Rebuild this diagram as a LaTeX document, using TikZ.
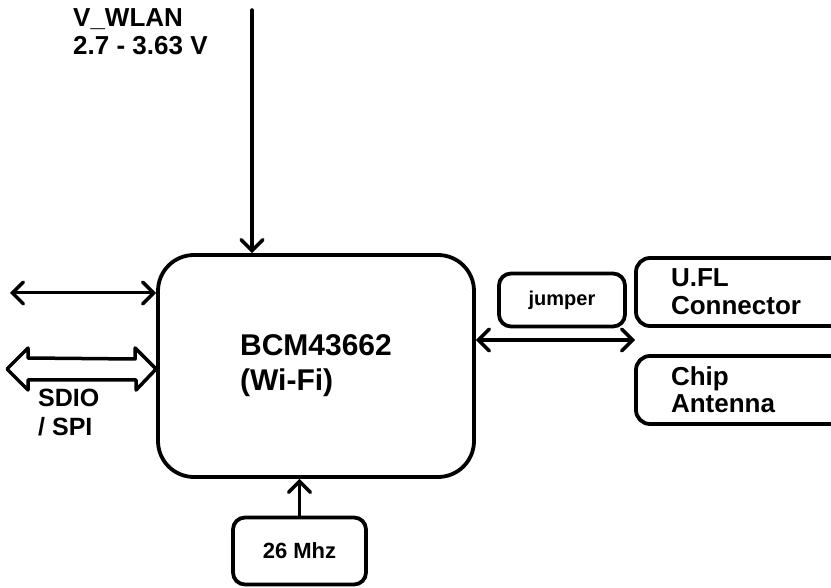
\documentclass[tikz,border=0pt]{standalone}
\usepackage{fontspec}
\setmainfont{Liberation Sans}
\usetikzlibrary{arrows.meta,calc}
\tikzset{
	blk/.style={draw, line width=3.8pt, rounded corners=12pt, font=\bfseries},
	lbl/.style={font=\bfseries, align=left, inner sep=0pt},
	link/.style={line width=3.5pt, line cap=round, line join=round},
	>={Straight Barb[length=11pt, width=22pt, line width=3.5pt, line cap=round]},
}

\begin{document}
\begin{tikzpicture}[x=1pt, y=-1pt]
		\useasboundingbox (0,0) rectangle (831,588);
		% Define nodes
		\node[blk, rounded corners=36pt, minimum width=316pt, minimum height=222pt, align=left,
			font=\bfseries\fontsize{30}{35}\selectfont] (wifi) at (316,366) {BCM43662\\(Wi-Fi)};
		\node[blk, minimum width=126pt, minimum height=53pt,
			font=\bfseries\fontsize{20}{22}\selectfont] (jumper) at (562,300) {jumper};
		\node[blk, rounded corners=14pt, inner xsep=35pt, text width=150pt, minimum height=68pt, align=left,
			font=\bfseries\fontsize{26}{28}\selectfont] (ufl) at (746,292) {U.FL\\Connector};
		\node[blk, rounded corners=14pt, inner xsep=35pt, text width=150pt, minimum height=68pt, align=left,
			font=\bfseries\fontsize{26}{27}\selectfont] (chip) at (746,390) {Chip\\Antenna};
		\node[blk, minimum width=133pt, minimum height=67pt,
			font=\bfseries\fontsize{22}{24}\selectfont] (clk) at (299.5,551) {26 Mhz};
		\node[lbl, anchor=north west, font=\bfseries\fontsize{26}{28}\selectfont] (vwlan) at (73,8) {V\_WLAN\\2.7 - 3.63 V};
		\node[lbl, anchor=north west, font=\bfseries\fontsize{25}{29}\selectfont] (sdio) at (38,389) {SDIO\\/ SPI};
		\coordinate (vin) at (252,10);
		\coordinate (io) at (10,293);
		\coordinate (rf) at (635,340);

		% Connect the nodes
		\draw[link, ->] (vin) -- (vin |- wifi.north);
		\draw[link, line width=3pt, <->] (io) -- (io -| wifi.west);
		\draw[link, <->] (rf -| wifi.east) -- (rf);
		\draw[link, ->] (clk.north) -- (clk.north |- wifi.south);
		% SDIO / SPI bus
		\draw[link] (wifi.west |- 0,369) -- ++(-21,-21) -- ++(0,11) -- (28,358) -- (28,348)
			-- (7,369) -- (28,390) -- (28,380) -- ($(wifi.west |- 0,380)+(-20,0)$) -- ++(0,10) -- cycle;
	\end{tikzpicture}
\end{document}
